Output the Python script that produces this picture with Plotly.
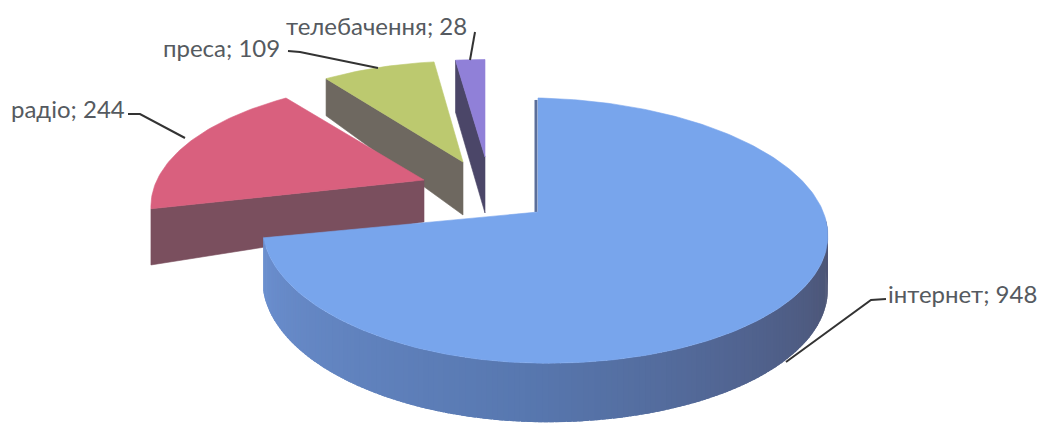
import numpy as np
import plotly.graph_objects as go

# --- data ---
categories = ["інтернет", "радіо", "преса", "телебачення"]
values = [948, 244, 109, 28]

# --- style / layout of the exploded pseudo-3D pie (pixel space) ---
TOP = ["#78a5ec", "#d9607e", "#bcc96f", "#9080d8"]
WALL = ["#5b6f9a", "#7a4f5e", "#6e6860", "#4b4668"]
APEX = [(538, 212), (424, 180), (463, 162), (485, 157)]
RX_L = [273, 267, 265, 270]
RX_R = [287, 267, 265, 270]
RY = [130, 120, 122, 118]
PERSP = [0.14, 0.21, 0.21, 0.21]
THICK0 = [53, 42, 53, 56]
THICK1 = [6, 62, 20, 4]
SHEAR = [5, 0, 0, 0]
LABEL_POS = [(886, 293), (9, 108), (161, 47), (284, 25)]
LEADERS = [
    [(886, 299), (871, 300), (786, 362)],
    [(128, 114), (140, 114), (185, 138)],
    [(288, 51), (300, 52), (378, 68)],
    [(475, 32), (470, 60)],
]
RIM_STOPS = [(0.0, (108, 144, 208)), (0.45, (88, 120, 176)), (0.75, (80, 96, 138)), (1.0, (76, 82, 110))]


def project(i, deg, r=1.0):
    a = np.radians(deg)
    X, Y = r * np.sin(a), -r * np.cos(a)
    w = 1 - PERSP[i] * Y
    rx = RX_L[i] if X < 0 else RX_R[i]
    return (APEX[i][0] + rx * X / w,
            APEX[i][1] + RY[i] * Y / w + SHEAR[i] * X,
            THICK0[i] + THICK1[i] * Y)


def poly(fig, xs, ys, color, lw=0.6):
    fig.add_trace(go.Scatter(x=xs, y=ys, mode="lines", fill="toself", fillcolor=color,
                             line=dict(color=color, width=lw), hoverinfo="skip", showlegend=False))


def rim_color(t):
    for (t0, c0), (t1, c1) in zip(RIM_STOPS, RIM_STOPS[1:]):
        if t <= t1:
            f = (t - t0) / (t1 - t0)
            c = [int(a + (b - a) * f) for a, b in zip(c0, c1)]
            return "rgb(%d,%d,%d)" % tuple(c)
    return "rgb(%d,%d,%d)" % RIM_STOPS[-1][1]


fig = go.Figure()
total = sum(values)
spans = [v / total * 360 for v in values]
starts = [sum(spans[:k]) for k in range(len(values))]

for i in [3, 2, 1, 0]:
    a0, a1 = starts[i], starts[i] + spans[i]
    arc = np.linspace(a0, a1, max(int(spans[i]), 6))
    ax = APEX[i][0]
    ay = APEX[i][1]
    if i == 0:
        tx, ty, _ = project(i, 0)
        fig.add_trace(go.Scatter(x=[tx - 2, ax - 2], y=[ty + 2, ay], mode="lines",
                                 line=dict(color=WALL[0], width=3), hoverinfo="skip", showlegend=False))
        rim = [d for d in arc if d >= 90]
        # painted back to front as overlapping bands so no seams show
        for d0 in rim[:-1]:
            x0, y0, t0 = project(i, d0)
            x1, y1, t1 = project(i, d0 + (rim[1] - rim[0]) * 1.8)
            poly(fig, [x0, x1, x1, x0, x0], [y0, y1, y1 + t1, y0 + t0, y0],
                 rim_color((a1 - d0) / (a1 - 90)), lw=0)
    else:
        x0, y0, t0 = project(i, a0)
        poly(fig, [x0, ax, ax, x0, x0], [y0, ay, ay + THICK0[i], y0 + t0, y0], WALL[i])
    pts = [project(i, d)[:2] for d in arc]
    xs = [ax] + [p[0] for p in pts] + [ax]
    ys = [ay] + [p[1] for p in pts] + [ay]
    poly(fig, xs, ys, TOP[i])

for seg in LEADERS:
    fig.add_trace(go.Scatter(x=[p[0] for p in seg], y=[p[1] for p in seg], mode="lines",
                             line=dict(color="#333333", width=2), hoverinfo="skip", showlegend=False))

for name, val, (lx, ly) in zip(categories, values, LABEL_POS):
    fig.add_annotation(x=lx, y=ly, xref="x", yref="y", text=f"{name}; {val}", showarrow=False,
                       xanchor="left", yanchor="middle", font=dict(family="Lato", size=24, color="#555a60"))

fig.update_layout(width=1041, height=423, margin=dict(l=0, r=0, t=0, b=0),
                  paper_bgcolor="white", plot_bgcolor="white", showlegend=False,
                  xaxis=dict(range=[0, 1041], visible=False, fixedrange=True),
                  yaxis=dict(range=[423, 0], visible=False, fixedrange=True))
fig.write_html("out.html", post_script="document.body.style.margin='0';document.body.style.overflow='hidden';",
               config=dict(displayModeBar=False))
